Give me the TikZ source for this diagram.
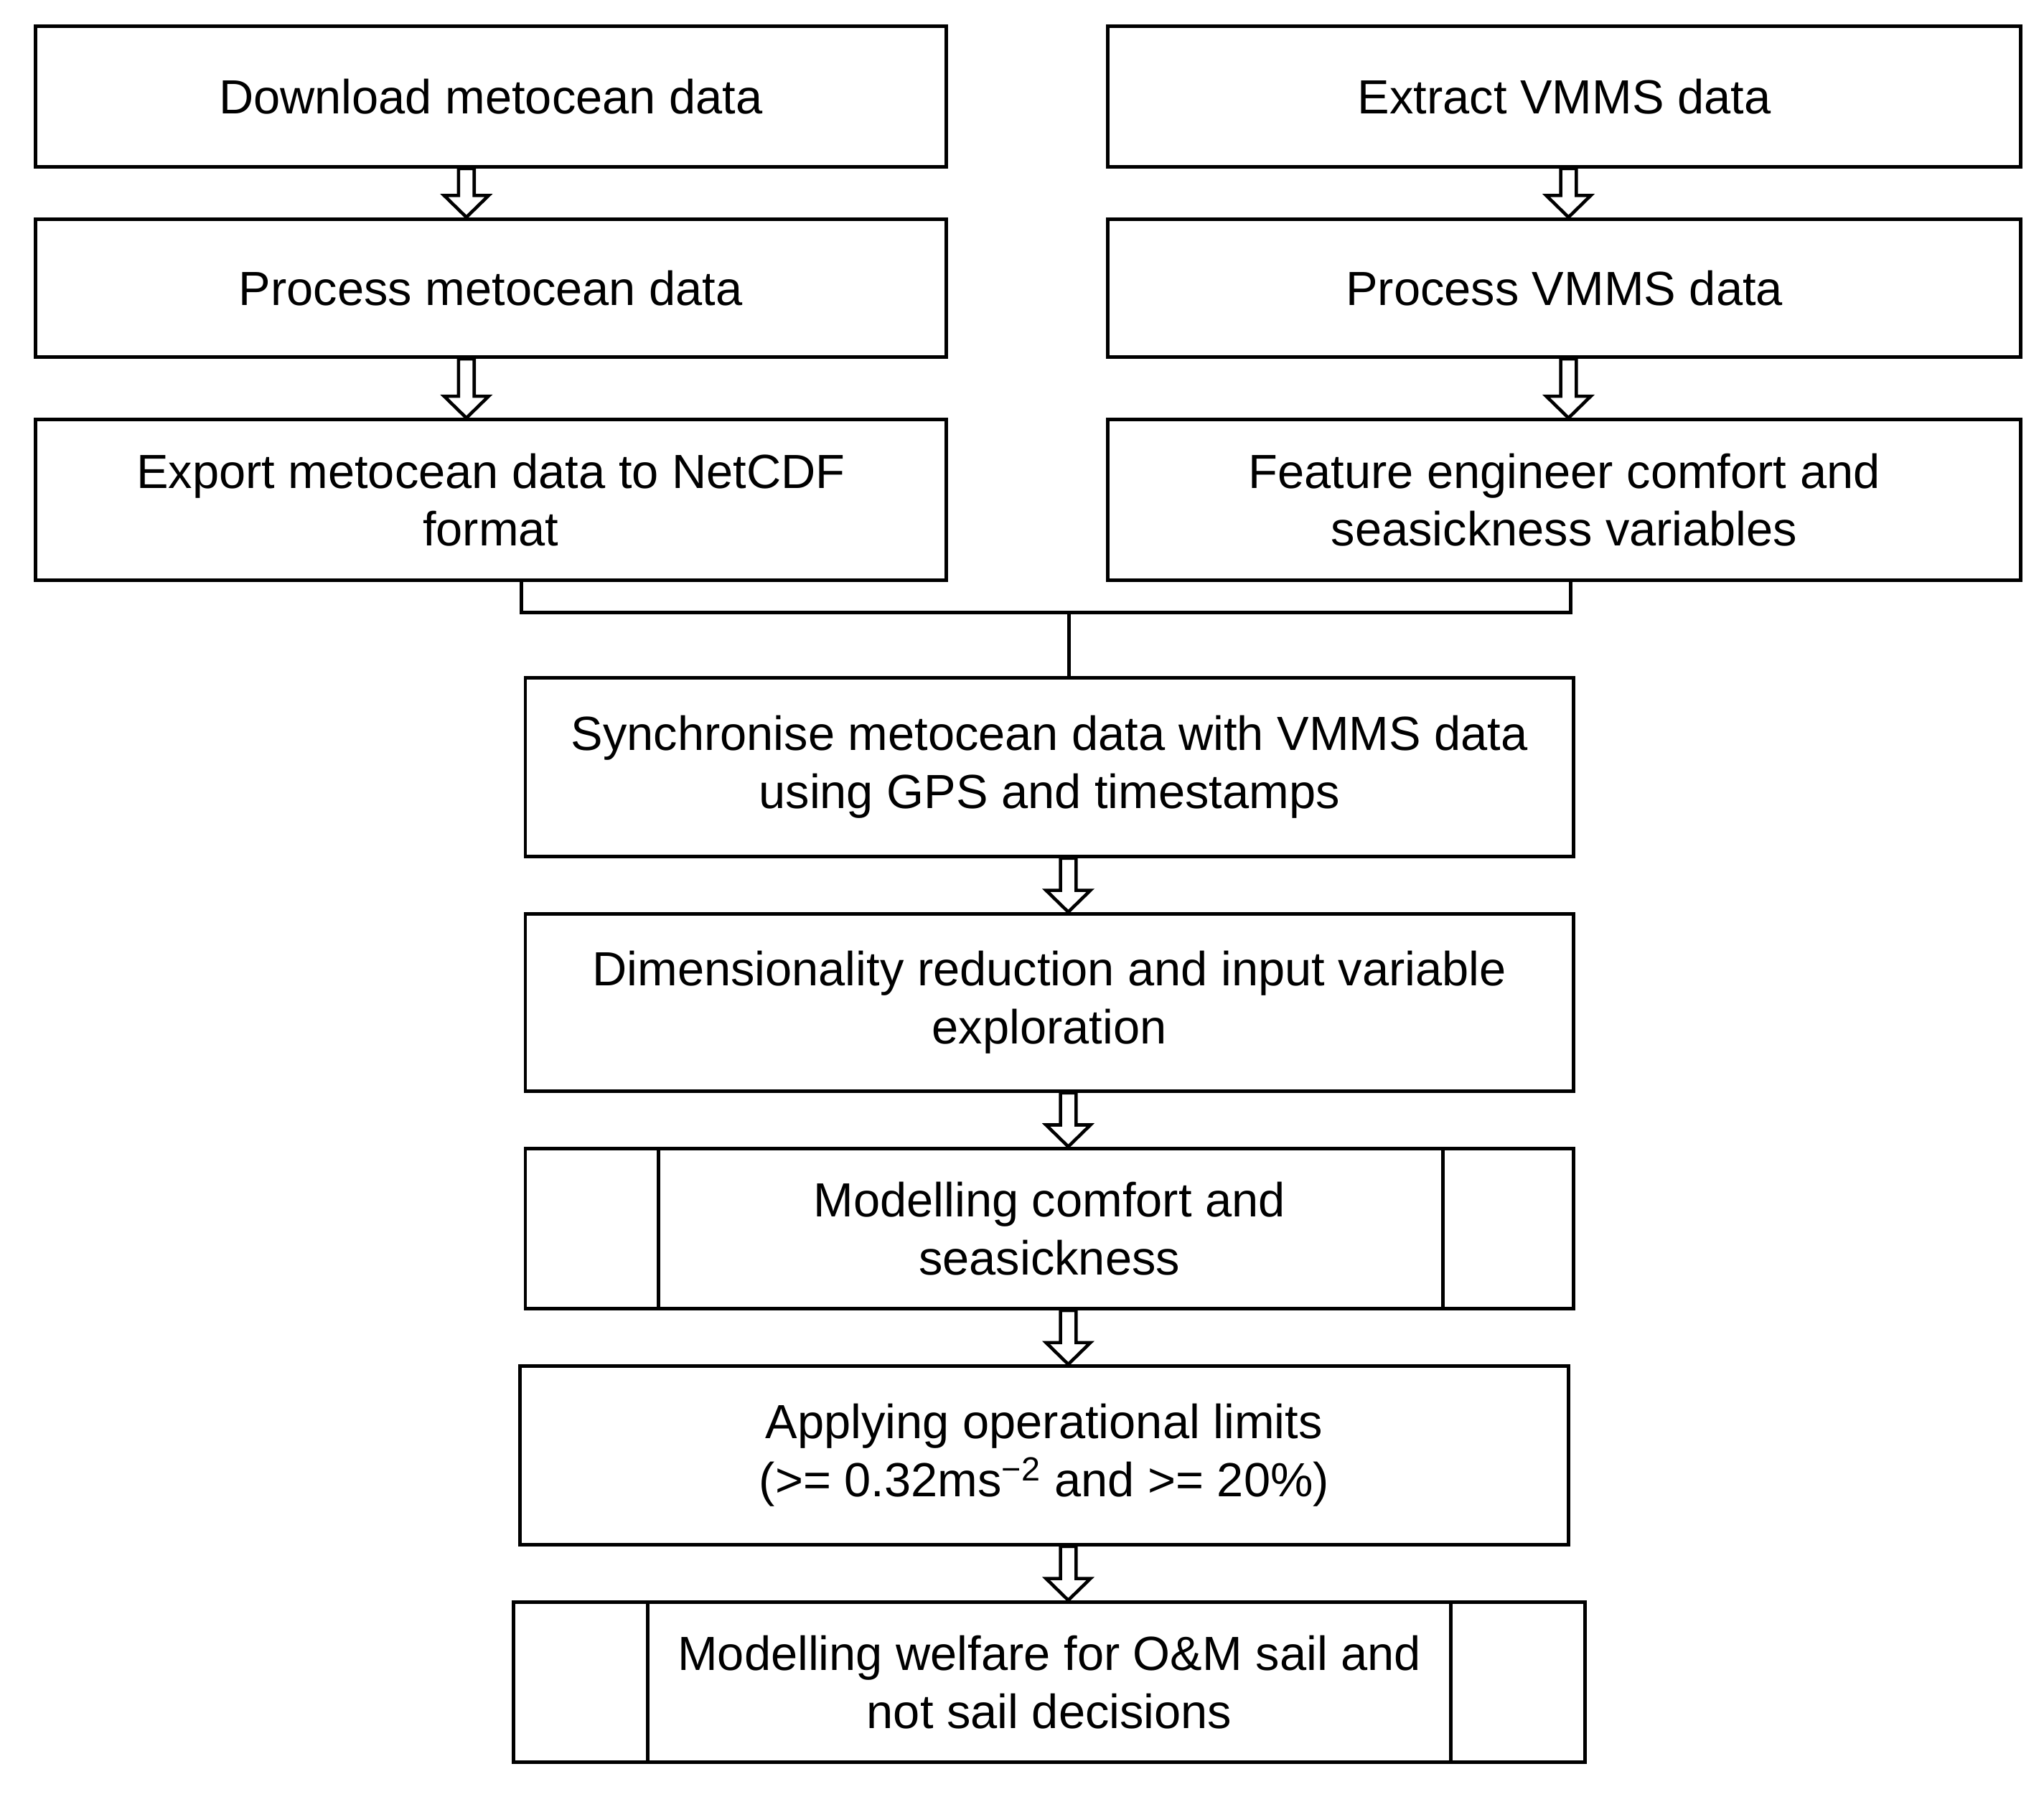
\documentclass[tikz,border=0pt]{standalone}
\usepackage{fontspec}
\setmainfont{Liberation Sans}
\usetikzlibrary{calc}
\begin{document}
\begin{tikzpicture}[x=0.01816cm,y=-0.01816cm,
  bx/.style 2 args={draw,line width=1.4pt,inner sep=0pt,align=center,
    minimum width=#1*0.01816cm,minimum height=#2*0.01816cm,
    font=\fontsize{19}{23}\selectfont},
  hl/.style={draw,line width=1.3pt,fill=white},
  ln/.style={draw,line width=1.4pt}]
\useasboundingbox (0,0) rectangle (1568,1382);
\newcommand\harr[3]{%
  \path let \p1=(#1.south), \p2=(#2.north) in
   [hl] (#3*0.5163pt-3.1pt,\y1) -- (#3*0.5163pt-3.1pt,\y2+8.6pt) -- (#3*0.5163pt-8.8pt,\y2+8.6pt)
   -- (#3*0.5163pt,\y2) -- (#3*0.5163pt+8.8pt,\y2+8.6pt) -- (#3*0.5163pt+3.1pt,\y2+8.6pt)
   -- (#3*0.5163pt+3.1pt,\y1) -- cycle;}
\node[bx={699}{108}] (d) at (376.5,74) {Download metocean data};
\node[bx={699}{106}] (pm) at (376.5,221) {Process metocean data};
\node[bx={699}{123}] (ex) at (376.5,383.5) {Export metocean data to NetCDF\\format};
\node[bx={700}{108}] (v) at (1200,74) {Extract VMMS data};
\node[bx={700}{106}] (pv) at (1200,221) {Process VMMS data};
\node[bx={700}{123}] (f) at (1200,383.5) {Feature engineer comfort and\\seasickness variables};
\node[bx={804}{137}] (s) at (805,588.5) {Synchronise metocean data with VMMS data\\using GPS and timestamps};
\node[bx={804}{136}] (dr) at (805,769) {Dimensionality reduction and input variable\\exploration};
\node[bx={804}{123}] (mc) at (805,942.5) {Modelling comfort and\\seasickness};
\node[bx={804}{137}] (ap) at (801,1116.5) {Applying operational limits\\(>= 0.32ms\textsuperscript{−2} and >= 20\%)};
\node[bx={822}{123}] (mw) at (805,1290.5) {Modelling welfare for O\&M sail and\\not sail decisions};
\draw[ln] (505,881) -- (505,1004) (1107,881) -- (1107,1004);
\draw[ln] (497,1229) -- (497,1352) (1113,1229) -- (1113,1352);
\coordinate (j) at (820,470);
\draw[ln] (ex.south -| 400,0) |- (j) -| (f.south -| 1205,0);
\draw[ln] (j) -- (s.north -| j);
\harr{d}{pm}{358}
\harr{pm}{ex}{358}
\harr{v}{pv}{1204}
\harr{pv}{f}{1204}
\harr{s}{dr}{820}
\harr{dr}{mc}{820}
\harr{mc}{ap}{820}
\harr{ap}{mw}{820}
\end{tikzpicture}
\end{document}
